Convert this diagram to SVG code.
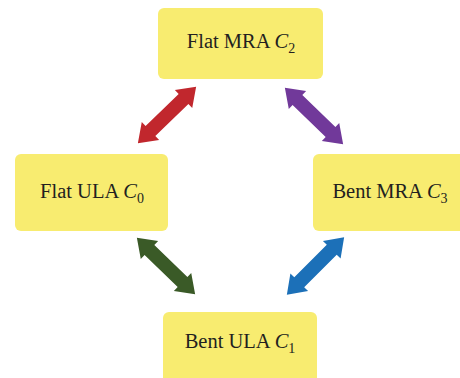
<svg xmlns="http://www.w3.org/2000/svg" width="460" height="378" viewBox="0 0 460 378">
<style>
.box{fill:#f8ec70}
.lbl{font-family:"Liberation Serif","DejaVu Serif",serif;font-size:20.5px;fill:#231f20;text-anchor:middle}
.it{font-style:italic}
.sub{font-size:14px}
</style>
<defs>
<path id="dblarrow" d="M-40.5,0 L-23,-12.5 L-23,-7 L23,-7 L23,-12.5 L40.5,0 L23,12.5 L23,7 L-23,7 L-23,12.5 Z"/>
</defs>
<rect width="460" height="378" fill="#ffffff"/>
<g id="connectors">
<use href="#dblarrow" fill="#c1272d" transform="translate(167,115) rotate(-44)"/>
<use href="#dblarrow" fill="#71399a" transform="translate(314,116) rotate(44)"/>
<use href="#dblarrow" fill="#3a5a27" transform="translate(166,266) rotate(44)"/>
<use href="#dblarrow" fill="#1c70b8" transform="translate(315.5,266) rotate(-45)"/>
</g>
<g id="flatMRA">
<rect class="box" x="158" y="8" width="165" height="71" rx="6"/>
<text class="lbl" x="241" y="48">Flat MRA <tspan class="it">C</tspan><tspan class="sub" dy="4.5">2</tspan></text>
</g>
<g id="flatULA">
<rect class="box" x="15" y="154" width="153" height="77" rx="6"/>
<text class="lbl" x="92" y="198">Flat ULA <tspan class="it">C</tspan><tspan class="sub" dy="4.5">0</tspan></text>
</g>
<g id="bentMRA">
<rect class="box" x="313" y="154" width="152" height="77" rx="6"/>
<text class="lbl" x="390" y="198">Bent MRA <tspan class="it">C</tspan><tspan class="sub" dy="4.5">3</tspan></text>
</g>
<g id="bentULA">
<rect class="box" x="163" y="312" width="154" height="72" rx="6"/>
<text class="lbl" x="240" y="348">Bent ULA <tspan class="it">C</tspan><tspan class="sub" dy="4.5">1</tspan></text>
</g>
</svg>
